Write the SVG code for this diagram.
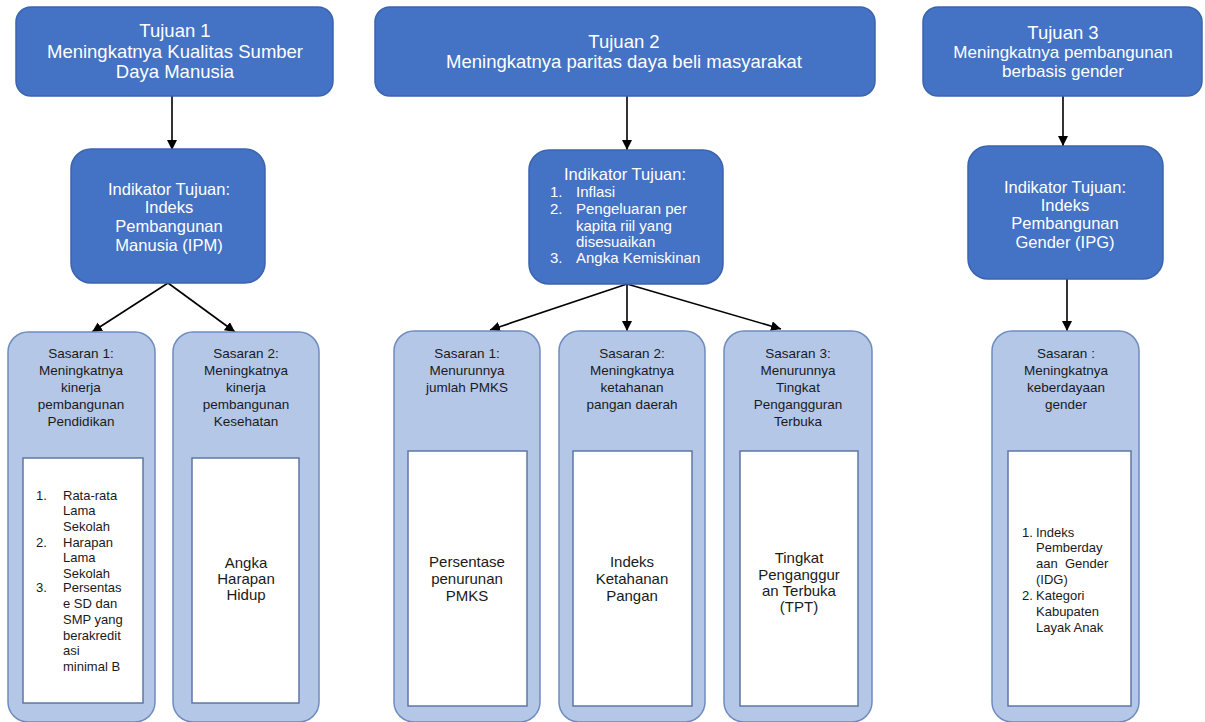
<svg xmlns="http://www.w3.org/2000/svg" width="1205" height="722" viewBox="0 0 1205 722">
<defs>
<marker id="ah" viewBox="0 0 10 10" refX="10" refY="5" markerWidth="10" markerHeight="10" markerUnits="userSpaceOnUse" orient="auto">
<path d="M0,0 L10,5 L0,10 z" fill="#000"/>
</marker>
<style>
.dk{fill:#4472C4;stroke:#3B64AE;stroke-width:1.5}
.lt{fill:#B4C7E7;stroke:#6F8CC0;stroke-width:1.5}
.wb{fill:#fff;stroke:#5F77A6;stroke-width:1.5}
text{font-family:"Liberation Sans",Arial,sans-serif}
.w{fill:#fff}
.k{fill:#1a1a1a}
.c{text-anchor:middle}
.ln{stroke:#000;stroke-width:1.6;fill:none;marker-end:url(#ah)}
</style>
</defs>
<rect width="1205" height="722" fill="#fff"/>

<g id="connectors">
<line class="ln" x1="172" y1="96" x2="172" y2="150"/>
<line class="ln" x1="627" y1="96" x2="627" y2="150"/>
<line class="ln" x1="1063" y1="96" x2="1063" y2="146"/>
<line class="ln" x1="168" y1="283" x2="92" y2="332"/>
<line class="ln" x1="168" y1="283" x2="235" y2="332"/>
<line class="ln" x1="627" y1="284" x2="490" y2="330"/>
<line class="ln" x1="627" y1="284" x2="627" y2="331"/>
<line class="ln" x1="627" y1="284" x2="781" y2="329"/>
<line class="ln" x1="1067" y1="279" x2="1067" y2="331"/>
</g>

<g id="tujuan1">
<rect class="dk" x="16" y="7" width="317" height="89" rx="15"/>
<text class="w c" font-size="18.5"><tspan x="175" y="37">Tujuan 1</tspan><tspan x="175" y="58">Meningkatnya Kualitas Sumber</tspan><tspan x="175" y="78">Daya Manusia</tspan></text>
</g>
<g id="tujuan2">
<rect class="dk" x="375" y="7" width="500" height="89" rx="15"/>
<text class="w c" font-size="18.5"><tspan x="624" y="48">Tujuan 2</tspan><tspan x="624" y="68">Meningkatnya paritas daya beli masyarakat</tspan></text>
</g>
<g id="tujuan3">
<rect class="dk" x="923" y="7" width="279" height="89" rx="15"/>
<text class="w c"><tspan x="1063" y="39" font-size="18.5">Tujuan 3</tspan><tspan x="1063" y="58" font-size="17">Meningkatnya pembangunan</tspan><tspan x="1063" y="77" font-size="17">berbasis gender</tspan></text>
</g>

<g id="indikator1">
<rect class="dk" x="71" y="149" width="194" height="134" rx="20"/>
<text class="w c" font-size="16.5"><tspan x="169" y="195">Indikator Tujuan:</tspan><tspan x="169" y="213">Indeks</tspan><tspan x="169" y="232">Pembangunan</tspan><tspan x="169" y="251">Manusia (IPM)</tspan></text>
</g>
<g id="indikator2">
<rect class="dk" x="529" y="150" width="194" height="134" rx="20"/>
<text class="w c" font-size="16.5" x="625" y="180">Indikator Tujuan:</text>
<text class="w" font-size="15"><tspan x="550" y="197">1.</tspan><tspan x="550" y="214">2.</tspan><tspan x="550" y="263">3.</tspan></text>
<text class="w" font-size="15"><tspan x="576" y="197">Inflasi</tspan><tspan x="576" y="214">Pengeluaran per</tspan><tspan x="576" y="231">kapita riil yang</tspan><tspan x="576" y="247">disesuaikan</tspan><tspan x="576" y="263">Angka Kemiskinan</tspan></text>
</g>
<g id="indikator3">
<rect class="dk" x="968" y="146" width="195" height="133" rx="20"/>
<text class="w c" font-size="16.5"><tspan x="1065" y="193">Indikator Tujuan:</tspan><tspan x="1065" y="211">Indeks</tspan><tspan x="1065" y="229">Pembangunan</tspan><tspan x="1065" y="248">Gender (IPG)</tspan></text>
</g>

<g id="sasaran1-1">
<rect class="lt" x="8" y="332" width="147" height="390" rx="20"/>
<rect class="wb" x="23" y="458" width="120" height="245"/>
<text class="k c" font-size="13.5"><tspan x="81" y="358">Sasaran 1:</tspan><tspan x="81" y="375">Meningkatnya</tspan><tspan x="81" y="392">kinerja</tspan><tspan x="81" y="409">pembangunan</tspan><tspan x="81" y="426">Pendidikan</tspan></text>
<text class="k" font-size="13"><tspan x="36" y="500">1.</tspan><tspan x="36" y="547">2.</tspan><tspan x="36" y="592">3.</tspan></text>
<text class="k" font-size="13"><tspan x="63" y="500">Rata-rata</tspan><tspan x="63" y="515">Lama</tspan><tspan x="63" y="531">Sekolah</tspan><tspan x="63" y="547">Harapan</tspan><tspan x="63" y="562">Lama</tspan><tspan x="63" y="578">Sekolah</tspan><tspan x="63" y="592">Persentas</tspan><tspan x="63" y="608">e SD dan</tspan><tspan x="63" y="624">SMP yang</tspan><tspan x="63" y="640">berakredit</tspan><tspan x="63" y="655">asi</tspan><tspan x="63" y="671">minimal B</tspan></text>
</g>
<g id="sasaran1-2">
<rect class="lt" x="173" y="332" width="146" height="390" rx="20"/>
<rect class="wb" x="192" y="458" width="107" height="245"/>
<text class="k c" font-size="13.5"><tspan x="246" y="358">Sasaran 2:</tspan><tspan x="246" y="375">Meningkatnya</tspan><tspan x="246" y="392">kinerja</tspan><tspan x="246" y="409">pembangunan</tspan><tspan x="246" y="426">Kesehatan</tspan></text>
<text class="k c" font-size="15"><tspan x="246" y="568">Angka</tspan><tspan x="246" y="584">Harapan</tspan><tspan x="246" y="600">Hidup</tspan></text>
</g>

<g id="sasaran2-1">
<rect class="lt" x="394" y="331" width="146" height="391" rx="20"/>
<rect class="wb" x="408" y="451" width="119" height="255"/>
<text class="k c" font-size="13.5"><tspan x="467" y="358">Sasaran 1:</tspan><tspan x="467" y="375">Menurunnya</tspan><tspan x="467" y="392">jumlah PMKS</tspan></text>
<text class="k c" font-size="15"><tspan x="467" y="567">Persentase</tspan><tspan x="467" y="584">penurunan</tspan><tspan x="467" y="601">PMKS</tspan></text>
</g>
<g id="sasaran2-2">
<rect class="lt" x="559" y="331" width="146" height="391" rx="20"/>
<rect class="wb" x="573" y="451" width="119" height="255"/>
<text class="k c" font-size="13.5"><tspan x="632" y="358">Sasaran 2:</tspan><tspan x="632" y="375">Meningkatnya</tspan><tspan x="632" y="392">ketahanan</tspan><tspan x="632" y="409">pangan daerah</tspan></text>
<text class="k c" font-size="15"><tspan x="632" y="567">Indeks</tspan><tspan x="632" y="584">Ketahanan</tspan><tspan x="632" y="601">Pangan</tspan></text>
</g>
<g id="sasaran2-3">
<rect class="lt" x="724" y="331" width="148" height="391" rx="20"/>
<rect class="wb" x="740" y="451" width="118" height="255"/>
<text class="k c" font-size="13.5"><tspan x="798" y="358">Sasaran 3:</tspan><tspan x="798" y="375">Menurunnya</tspan><tspan x="798" y="392">Tingkat</tspan><tspan x="798" y="409">Pengangguran</tspan><tspan x="798" y="426">Terbuka</tspan></text>
<text class="k c" font-size="15"><tspan x="799" y="563">Tingkat</tspan><tspan x="799" y="580">Penganggur</tspan><tspan x="799" y="596">an Terbuka</tspan><tspan x="799" y="612">(TPT)</tspan></text>
</g>

<g id="sasaran3">
<rect class="lt" x="992" y="331" width="147" height="391" rx="20"/>
<rect class="wb" x="1008" y="451" width="123" height="255"/>
<text class="k c" font-size="13.5"><tspan x="1066" y="358">Sasaran :</tspan><tspan x="1066" y="375">Meningkatnya</tspan><tspan x="1066" y="392">keberdayaan</tspan><tspan x="1066" y="409">gender</tspan></text>
<text class="k" font-size="13"><tspan x="1022" y="537">1.</tspan><tspan x="1022" y="600">2.</tspan></text>
<text class="k" font-size="13"><tspan x="1036" y="537">Indeks</tspan><tspan x="1036" y="552">Pemberday</tspan><tspan x="1036" y="568">aan&#160; Gender</tspan><tspan x="1036" y="584">(IDG)</tspan><tspan x="1036" y="600">Kategori</tspan><tspan x="1036" y="616">Kabupaten</tspan><tspan x="1036" y="632">Layak Anak</tspan></text>
</g>
</svg>
